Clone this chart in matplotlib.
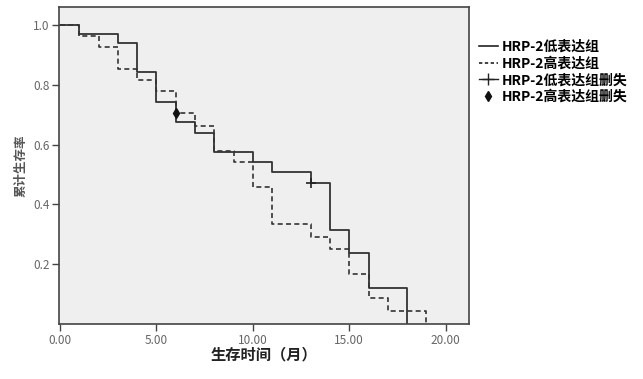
import matplotlib.pyplot as plt
from matplotlib.lines import Line2D

plt.rcParams['font.family'] = ['Noto Sans CJK SC', 'DejaVu Sans']

# step times (months) and survival after each step
low_t = [0, 1, 3, 4, 5, 6, 7, 8, 10, 11, 13, 14, 15, 16, 18]
low_s = [1.0, 0.968, 0.938, 0.843, 0.743, 0.676, 0.640, 0.574, 0.540, 0.507, 0.473, 0.316, 0.238, 0.119, 0.0]
high_t = [0, 1, 2, 3, 4, 5, 6, 7, 8, 9, 10, 11, 13, 14, 15, 16, 17, 19]
high_s = [1.0, 0.964, 0.927, 0.852, 0.815, 0.779, 0.704, 0.663, 0.578, 0.540, 0.457, 0.333, 0.292, 0.250, 0.167, 0.086, 0.043, 0.0]

# censored points
low_cens_t = [13]
low_cens_s = [0.473]
high_cens_t = [6]
high_cens_s = [0.704]

labels = ['HRP-2低表达组', 'HRP-2高表达组', 'HRP-2低表达组删失', 'HRP-2高表达组删失']

fig = plt.figure(figsize=(6.43, 3.79), dpi=100)
ax = fig.add_axes([0.092, 0.145, 0.637, 0.836])
ax.set_facecolor('#efefef')

ax.step(low_t, low_s, where='post', color='#333333', lw=1.3)
ax.step(high_t, high_s, where='post', color='#333333', lw=1.2, ls=(0, (3, 2)))
ax.plot(low_cens_t, low_cens_s, ls='none', marker='+', ms=7, mew=1.2, color='#222222')
ax.plot(high_cens_t, high_cens_s, ls='none', marker='d', ms=5, color='#111111')

ax.set_xlim(-0.05, 21.2)
ax.set_ylim(0, 1.059)
ax.set_xticks([0, 5, 10, 15, 20])
ax.set_xticklabels(['0.00', '5.00', '10.00', '15.00', '20.00'])
ax.set_yticks([0.2, 0.4, 0.6, 0.8, 1.0])
ax.set_yticklabels(['0.2', '0.4', '0.6', '0.8', '1.0'])
ax.tick_params(direction='out', length=5, width=1, colors='#444444', labelsize=8.5,
               labelcolor='#666666', pad=2)
for s in ax.spines.values():
    s.set_color('#444444')
    s.set_linewidth(1.2)

ax.set_xlabel('生存时间（月）', fontsize=11, fontweight='bold', color='#222222', labelpad=0)
ax.set_ylabel('累计生存率', fontsize=9, fontweight='bold', color='#555555', labelpad=4)

handles = [
    Line2D([], [], color='#222222', lw=1.2),
    Line2D([], [], color='#222222', lw=1.2, ls=(0, (2, 1.5))),
    Line2D([], [], color='#222222', lw=1.0, marker='+', ms=8),
    Line2D([], [], ls='none', color='#111111', marker='d', ms=5),
]
fig.legend(handles, labels, loc='upper left', bbox_to_anchor=(0.737, 0.91), frameon=False,
           prop={'size': 10, 'weight': 'bold'}, handlelength=1.3, handletextpad=0.3,
           labelspacing=0.2, borderaxespad=0)

fig.savefig('out.png', dpi=100)
